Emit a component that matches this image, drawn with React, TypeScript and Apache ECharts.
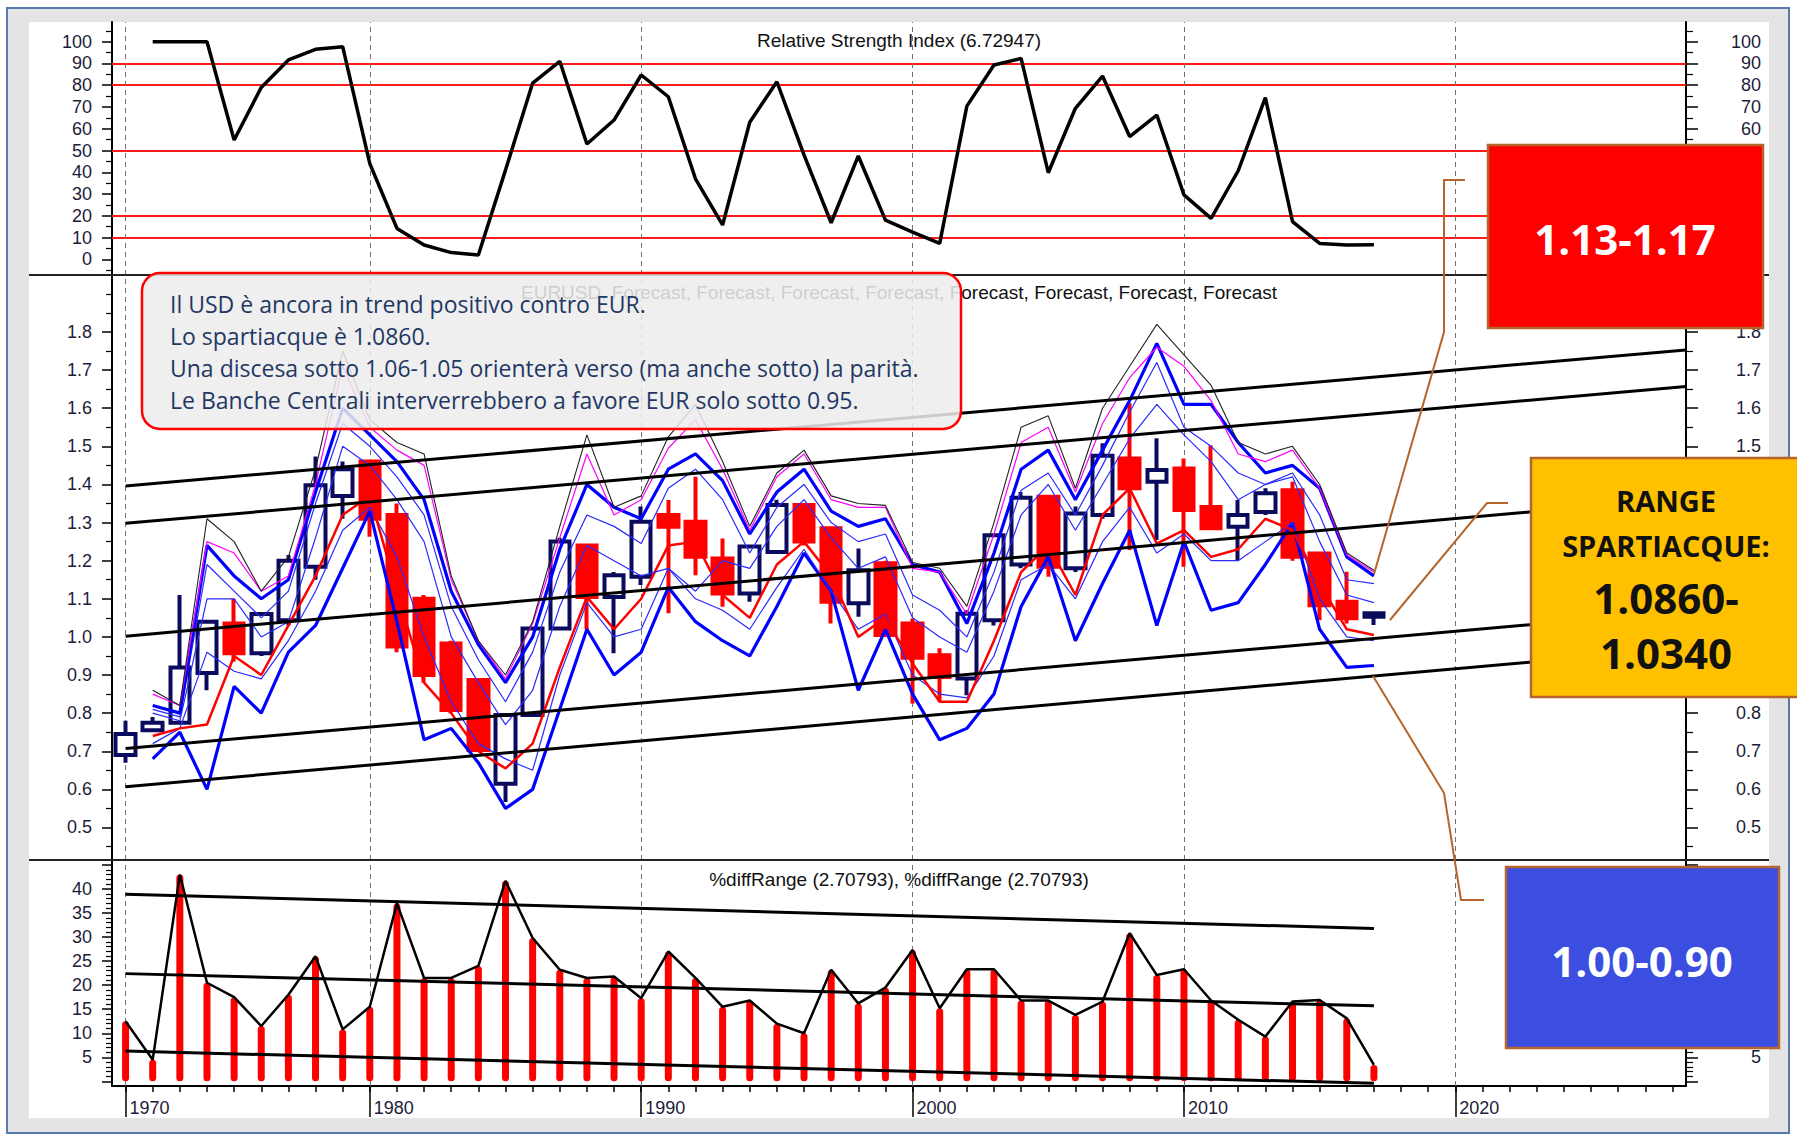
import React, { useEffect, useRef } from 'react';
import * as echarts from 'echarts';

// ---------- DATA ----------
const years = [1971, 1972, 1973, 1974, 1975, 1976, 1977, 1978, 1979, 1980, 1981, 1982, 1983, 1984, 1985, 1986, 1987, 1988, 1989, 1990, 1991, 1992, 1993, 1994, 1995, 1996, 1997, 1998, 1999, 2000, 2001, 2002, 2003, 2004, 2005, 2006, 2007, 2008, 2009, 2010, 2011, 2012, 2013, 2014, 2015, 2016, 2017];
const bandYears = [1972, 1973, 1974, 1975, 1976, 1977, 1978, 1979, 1980, 1981, 1982, 1983, 1984, 1985, 1986, 1987, 1988, 1989, 1990, 1991, 1992, 1993, 1994, 1995, 1996, 1997, 1998, 1999, 2000, 2001, 2002, 2003, 2004, 2005, 2006, 2007, 2008, 2009, 2010, 2011, 2012, 2013, 2014, 2015, 2016, 2017];

const candleOpen = [0.69, 0.755, 0.775, 0.905, 1.035, 0.957, 1.044, 1.184, 1.37, 1.46, 1.32, 1.10, 0.983, 0.887, 0.615, 0.795, 1.022, 1.24, 1.105, 1.158, 1.32, 1.302, 1.206, 1.114, 1.223, 1.346, 1.285, 1.088, 1.193, 1.035, 0.952, 0.891, 1.044, 1.19, 1.368, 1.18, 1.32, 1.468, 1.407, 1.442, 1.341, 1.289, 1.328, 1.385, 1.219, 1.092, 1.053];
const candleClose = [0.745, 0.775, 0.92, 1.04, 0.957, 1.06, 1.20, 1.398, 1.44, 1.31, 0.975, 0.90, 0.808, 0.703, 0.795, 1.022, 1.25, 1.105, 1.162, 1.302, 1.289, 1.21, 1.114, 1.237, 1.346, 1.25, 1.092, 1.175, 1.005, 0.945, 0.895, 1.061, 1.267, 1.365, 1.184, 1.324, 1.475, 1.39, 1.438, 1.333, 1.285, 1.32, 1.377, 1.21, 1.083, 1.049, 1.062];
const candleLow = [0.67, 0.75, 0.77, 0.86, 0.935, 0.95, 1.03, 1.15, 1.31, 1.263, 0.96, 0.88, 0.80, 0.70, 0.567, 0.79, 1.02, 1.02, 0.957, 1.136, 1.062, 1.162, 1.079, 1.092, 1.22, 1.24, 1.035, 1.053, 1.0, 0.825, 0.83, 0.847, 1.03, 1.18, 1.158, 1.17, 1.31, 1.228, 1.254, 1.184, 1.28, 1.202, 1.32, 1.20, 1.044, 1.035, 1.031];
const candleHigh = [0.78, 0.79, 1.11, 1.045, 1.10, 1.065, 1.215, 1.473, 1.46, 1.465, 1.35, 1.11, 0.99, 0.89, 0.80, 1.025, 1.26, 1.245, 1.17, 1.342, 1.359, 1.42, 1.258, 1.24, 1.36, 1.35, 1.29, 1.232, 1.20, 1.048, 0.97, 1.07, 1.27, 1.38, 1.37, 1.342, 1.508, 1.613, 1.521, 1.468, 1.503, 1.359, 1.39, 1.407, 1.22, 1.171, 1.065];

// Forecast lines (1972-2017)
const fcBlack = [0.86, 0.82, 1.31, 1.25, 1.12, 1.21, 1.44, 1.75, 1.57, 1.51, 1.48, 1.16, 0.99, 0.90, 1.04, 1.29, 1.53, 1.34, 1.37, 1.525, 1.61, 1.46, 1.29, 1.43, 1.49, 1.37, 1.35, 1.345, 1.195, 1.18, 1.08, 1.30, 1.55, 1.58, 1.39, 1.60, 1.71, 1.82, 1.74, 1.66, 1.51, 1.48, 1.50, 1.40, 1.22, 1.175];
const fcMagenta = [0.85, 0.82, 1.25, 1.22, 1.12, 1.16, 1.40, 1.71, 1.55, 1.49, 1.45, 1.15, 0.99, 0.89, 1.035, 1.26, 1.48, 1.32, 1.36, 1.495, 1.57, 1.44, 1.28, 1.42, 1.48, 1.36, 1.34, 1.34, 1.18, 1.17, 1.06, 1.27, 1.51, 1.55, 1.38, 1.56, 1.68, 1.76, 1.71, 1.62, 1.48, 1.46, 1.49, 1.39, 1.215, 1.17];
const fcUpper = [0.82, 0.80, 1.24, 1.16, 1.10, 1.15, 1.38, 1.60, 1.53, 1.46, 1.36, 1.12, 0.98, 0.88, 1.00, 1.23, 1.40, 1.34, 1.31, 1.44, 1.48, 1.41, 1.27, 1.38, 1.44, 1.33, 1.29, 1.31, 1.19, 1.17, 1.035, 1.22, 1.44, 1.49, 1.36, 1.49, 1.62, 1.77, 1.61, 1.61, 1.51, 1.43, 1.45, 1.39, 1.21, 1.16];
const fcThin1 = [0.81, 0.79, 1.19, 1.12, 1.05, 1.12, 1.35, 1.56, 1.50, 1.42, 1.32, 1.08, 0.94, 0.83, 0.96, 1.17, 1.32, 1.29, 1.245, 1.39, 1.44, 1.36, 1.22, 1.34, 1.40, 1.30, 1.25, 1.27, 1.11, 1.07, 1.00, 1.17, 1.385, 1.43, 1.32, 1.45, 1.59, 1.72, 1.55, 1.50, 1.43, 1.40, 1.43, 1.32, 1.15, 1.14];
const fcThin2 = [0.80, 0.78, 1.10, 1.10, 1.00, 1.04, 1.26, 1.50, 1.45, 1.36, 1.25, 1.00, 0.88, 0.77, 0.86, 1.08, 1.24, 1.20, 1.16, 1.18, 1.12, 1.20, 1.18, 1.29, 1.36, 1.26, 1.18, 1.21, 1.05, 1.00, 0.96, 1.12, 1.32, 1.40, 1.28, 1.40, 1.52, 1.61, 1.53, 1.46, 1.36, 1.40, 1.42, 1.25, 1.11, 1.09];
const fcRed = [0.74, 0.76, 0.77, 0.95, 0.90, 1.03, 1.16, 1.32, 1.37, 1.12, 0.88, 0.80, 0.70, 0.655, 0.72, 0.92, 1.105, 1.02, 1.10, 1.24, 1.25, 1.11, 1.05, 1.19, 1.25, 1.16, 1.00, 1.05, 0.93, 0.83, 0.83, 0.99, 1.17, 1.24, 1.11, 1.32, 1.39, 1.245, 1.28, 1.21, 1.23, 1.31, 1.28, 1.14, 1.02, 1.005];
const fcThin3 = [0.72, 0.76, 0.96, 0.91, 0.89, 0.99, 1.12, 1.28, 1.34, 1.21, 1.00, 0.83, 0.72, 0.68, 0.65, 0.90, 1.09, 1.00, 1.02, 1.18, 1.10, 1.07, 1.02, 1.13, 1.23, 1.12, 1.02, 1.06, 0.90, 0.85, 0.84, 0.95, 1.15, 1.19, 1.10, 1.25, 1.34, 1.22, 1.27, 1.20, 1.20, 1.25, 1.30, 1.10, 1.00, 0.99];
const fcLower = [0.68, 0.75, 0.60, 0.87, 0.80, 0.96, 1.03, 1.18, 1.33, 1.04, 0.73, 0.76, 0.67, 0.55, 0.60, 0.81, 1.02, 0.90, 0.96, 1.13, 1.04, 0.99, 0.95, 1.08, 1.22, 1.12, 0.86, 1.02, 0.85, 0.73, 0.76, 0.85, 1.08, 1.21, 0.99, 1.14, 1.28, 1.03, 1.25, 1.07, 1.09, 1.19, 1.30, 1.02, 0.92, 0.925];

// RSI (1972-2017)
const rsi = [100, 100, 100, 54.8, 79, 91.6, 96.5, 97.7, 44, 14.2, 6.6, 3.1, 2, 41, 81, 91, 53, 64, 84.7, 74.7, 37, 15.8, 63, 81.6, 48, 16.8, 47.5, 18, 12.5, 7.3, 70.4, 89.3, 92.3, 39.8, 69.4, 84.2, 56.4, 66.3, 29.6, 18.8, 40.7, 74.3, 17.3, 7.3, 6.6, 6.7];
const rsiLevels = [10, 20, 50, 80, 90];

// %diffRange (1971-2017)
const diffRange = [12.5, 4.5, 43, 20.5, 17.5, 11.5, 18, 26, 10.8, 15.5, 37, 21.5, 21.5, 24, 41.7, 29.8, 23.2, 21.5, 21.8, 17.3, 27, 21.5, 15.5, 16.8, 12, 10, 23.2, 16.2, 19.5, 27.3, 15.2, 23.3, 23.3, 16.8, 16.8, 13.8, 16.6, 30.8, 22.1, 23.3, 16.8, 12.8, 9.3, 16.6, 16.9, 13.1, 3.4];

// trend channels
const mainTrendX = [1971, 2028.5];
const mainTrendY = [[1.396, 1.753], [1.298, 1.657], [1.002, 1.364], [0.707, 1.068], [0.607, 0.970]];
const lowTrendX = [1971, 2017];
const lowTrendY = [[38.9, 31.8], [22.4, 15.7], [6.3, -0.4]];

// axes ticks / labels
const decadeMarks = [1971, 1980, 1990, 2000, 2010, 2020];
const rsiLabels = [0, 10, 20, 30, 40, 50, 60, 70, 80, 90, 100];
const rsiLabelsRight = [60, 70, 80, 90, 100];
const rsiMinor = [-5, 5, 15, 25, 35, 45, 55, 65, 75, 85, 95, 105];
const priceLabels = [0.5, 0.6, 0.7, 0.8, 0.9, 1.0, 1.1, 1.2, 1.3, 1.4, 1.5, 1.6, 1.7, 1.8];
const priceLabelsRight = [0.5, 0.6, 0.7, 0.8, 1.5, 1.6, 1.7, 1.8];
const priceMinor = [0.45, 0.55, 0.65, 0.75, 0.85, 0.95, 1.05, 1.15, 1.25, 1.35, 1.45, 1.55, 1.65, 1.75, 1.85, 1.9];
const diffLabels = [5, 10, 15, 20, 25, 30, 35, 40];
const diffLabelsRight = [5];
const diffMajor = [0, 5, 10, 15, 20, 25, 30, 35, 40, 45];
const diffMinor = [1, 2, 3, 4, 6, 7, 8, 9, 11, 12, 13, 14, 16, 17, 18, 19, 21, 22, 23, 24, 26, 27, 28, 29, 31, 32, 33, 34, 36, 37, 38, 39, 41, 42, 43, 44];
const yearTicks = [1971, 1972, 1973, 1974, 1975, 1976, 1977, 1978, 1979, 1980, 1981, 1982, 1983, 1984, 1985, 1986, 1987, 1988, 1989, 1990, 1991, 1992, 1993, 1994, 1995, 1996, 1997, 1998, 1999, 2000, 2001, 2002, 2003, 2004, 2005, 2006, 2007, 2008, 2009, 2010, 2011, 2012, 2013, 2014, 2015, 2016, 2017, 2018, 2019, 2020, 2021, 2022, 2023, 2024, 2025, 2026, 2027, 2028];

const noteLines = [
  'Il USD è ancora in trend positivo contro EUR.',
  'Lo spartiacque è 1.0860.',
  'Una discesa sotto 1.06-1.05 orienterà verso (ma anche sotto) la parità.',
  'Le Banche Centrali interverrebbero a favore EUR solo sotto 0.95.',
];

// ---------- OPTION ----------
const FONT = '"Liberation Sans", Arial, sans-serif';
const LBL = '#1c1c3a';
const X_MIN = 1970.5;
const X_MAX = 2028.5;

const pts = (xs: number[], ys: number[]) => xs.map((x, i) => [x, ys[i]]);

function yAxes(grid: number, min: number, max: number, labels: number[], labelsRight: number[], fmt: (v: number) => string, major: number[], minor: number[]) {
  const base: any = {
    type: 'value', gridIndex: grid, min, max,
    splitLine: { show: false },
    axisLine: { show: false, onZero: false },
    axisLabel: { show: false },
    axisTick: { show: false },
  };
  const lbl = { show: true, formatter: fmt, color: LBL, fontFamily: FONT, fontSize: 18, align: 'right' };
  return [
    { ...base, position: 'left',
      axisLine: { show: true, onZero: false, lineStyle: { color: '#000', width: 2 } },
      axisTick: { show: true, customValues: major, length: 10, lineStyle: { color: '#000', width: 1.5 } },
      axisLabel: { ...lbl, customValues: labels, margin: 20 } },
    { ...base, position: 'right',
      axisLine: { show: true, onZero: false, lineStyle: { color: '#000', width: 2 } },
      axisTick: { show: true, customValues: major, length: 12, lineStyle: { color: '#000', width: 1.5 } },
      axisLabel: { ...lbl, customValues: labelsRight, margin: 75 } },
    { ...base, position: 'left',
      axisTick: { show: true, customValues: minor, length: 6, lineStyle: { color: '#000', width: 1.2 } } },
    { ...base, position: 'right',
      axisTick: { show: true, customValues: minor, length: 7, lineStyle: { color: '#000', width: 1.2 } } },
  ];
}

const dashData = decadeMarks.map((x) => ({ xAxis: x }));
const dashLine = {
  silent: true, symbol: ['none', 'none'], z: 1, animation: false,
  label: { show: false },
  lineStyle: { color: '#707070', width: 1, type: [5, 4] },
  data: dashData,
};

function fcLine(name: string, data: number[], color: string, width: number) {
  return {
    type: 'line', name, xAxisIndex: 1, yAxisIndex: 4,
    data: pts(bandYears, data), symbol: 'none', showSymbol: false,
    lineStyle: { color, width }, z: 3, silent: true, animation: false,
  };
}

function buildOption(): any {
  const yAxis = [
    ...yAxes(0, -7.2, 109.05, rsiLabels, rsiLabelsRight, (v) => String(v), rsiLabels, rsiMinor),
    ...yAxes(1, 0.4147, 1.9495, priceLabels, priceLabelsRight, (v) => Number(v).toFixed(1), priceLabels, priceMinor),
    ...yAxes(2, -0.97, 46.03, diffLabels, diffLabelsRight, (v) => String(v), diffMajor, diffMinor),
  ];
  const hiddenX = (g: number) => ({ type: 'value', gridIndex: g, min: X_MIN, max: X_MAX, show: false, axisLine: { onZero: false } });
  const xAxis = [
    hiddenX(0),
    hiddenX(1),
    {
      type: 'value', gridIndex: 2, min: X_MIN, max: X_MAX, position: 'bottom',
      splitLine: { show: false },
      axisLine: { show: true, onZero: false, lineStyle: { color: '#000', width: 2 } },
      axisTick: { show: true, customValues: yearTicks, length: 6, lineStyle: { color: '#000', width: 1.5 } },
      axisLabel: {
        show: true, customValues: decadeMarks,
        formatter: (v: number) => (Number(v) === 1971 ? '1970' : String(v)),
        align: 'left', padding: [0, 0, 0, 4], margin: 13,
        color: LBL, fontFamily: FONT, fontSize: 18,
      },
    },
    {
      type: 'value', gridIndex: 2, min: X_MIN, max: X_MAX, position: 'bottom',
      splitLine: { show: false }, axisLabel: { show: false },
      axisLine: { show: false, onZero: false },
      axisTick: { show: true, customValues: decadeMarks, length: 31, lineStyle: { color: '#000', width: 1.5 } },
    },
  ];

  const series: any[] = [
    // RSI pane
    {
      type: 'line', name: 'RSI', xAxisIndex: 0, yAxisIndex: 0,
      data: pts(bandYears, rsi), symbol: 'none', showSymbol: false,
      lineStyle: { color: '#000', width: 3.5 }, z: 3, silent: true,
      markLine: {
        ...dashLine,
        data: [
          ...rsiLevels.map((v) => ({ yAxis: v, lineStyle: { color: '#ff1a1a', width: 2, type: 'solid' } })),
          ...dashData,
        ],
      },
    },
    // price pane
    {
      type: 'candlestick', name: 'EURUSD', xAxisIndex: 1, yAxisIndex: 4,
      data: years.map((y, i) => [y, candleOpen[i], candleClose[i], candleLow[i], candleHigh[i]]),
      barWidth: 20, z: 2, silent: true,
      itemStyle: { color: '#ffffff', color0: '#ff0000', borderColor: '#0b0b5e', borderColor0: '#ff0000', borderWidth: 4 },
      markLine: dashLine,
    },
    fcLine('Lower', fcLower, '#0000ff', 3.2),
    fcLine('Thin3', fcThin3, '#2a2aff', 1.2),
    fcLine('Red', fcRed, '#ff0000', 2.5),
    fcLine('Thin2', fcThin2, '#2a2aff', 1.2),
    fcLine('Thin1', fcThin1, '#2a2aff', 1.2),
    fcLine('Upper', fcUpper, '#0000ff', 3.2),
    fcLine('Magenta', fcMagenta, '#ff00ff', 1.2),
    fcLine('Black', fcBlack, '#222222', 1.1),
    ...mainTrendY.map((t, i) => ({
      type: 'line', name: 'trend' + i, xAxisIndex: 1, yAxisIndex: 4,
      data: pts(mainTrendX, t), symbol: 'none', lineStyle: { color: '#000', width: 3 }, z: 4, silent: true,
    })),
    // %diffRange pane
    {
      type: 'bar', name: '%diffRange', xAxisIndex: 2, yAxisIndex: 8,
      data: pts(years, diffRange), barWidth: 7, z: 2, silent: true,
      itemStyle: { color: '#ff0000', borderRadius: 3.5 },
      markLine: dashLine,
    },
    {
      type: 'line', name: '%diffRange line', xAxisIndex: 2, yAxisIndex: 8,
      data: pts(years, diffRange), symbol: 'none', lineStyle: { color: '#000', width: 2.5 }, z: 3, silent: true,
    },
    ...lowTrendY.map((t, i) => ({
      type: 'line', name: 'ltrend' + i, xAxisIndex: 2, yAxisIndex: 8,
      data: pts(lowTrendX, t), symbol: 'none', lineStyle: { color: '#000', width: 3 }, z: 4, silent: true,
    })),
  ];

  const brown = '#b5652b';
  const graphic: any[] = [
    { type: 'rect', z: -10, silent: true, shape: { x: 7, y: 8, width: 1782, height: 1125 }, style: { fill: '#e4e4e4', stroke: '#5878b0', lineWidth: 2 } },
    { type: 'rect', z: -9, silent: true, shape: { x: 29, y: 22, width: 1740, height: 1096 }, style: { fill: '#ffffff' } },
    { type: 'line', z: 5, silent: true, shape: { x1: 29, y1: 275, x2: 1769, y2: 275 }, style: { stroke: '#222', lineWidth: 2 } },
    { type: 'line', z: 5, silent: true, shape: { x1: 29, y1: 860, x2: 1769, y2: 860 }, style: { stroke: '#222', lineWidth: 2 } },
    // pane titles
    { type: 'text', z: 50, silent: true, x: 899, y: 40, style: { text: 'Relative Strength Index (6.72947)', fill: '#111', fontFamily: FONT, fontSize: 19, align: 'center', verticalAlign: 'middle' } },
    { type: 'text', z: 50, silent: true, x: 899, y: 292, style: { text: 'EURUSD, Forecast, Forecast, Forecast, Forecast, Forecast, Forecast, Forecast, Forecast', fill: '#111', fontFamily: FONT, fontSize: 19, align: 'center', verticalAlign: 'middle' } },
    { type: 'text', z: 50, silent: true, x: 899, y: 879, style: { text: '%diffRange (2.70793), %diffRange (2.70793)', fill: '#111', fontFamily: FONT, fontSize: 19, align: 'center', verticalAlign: 'middle' } },
    // note box
    { type: 'rect', z: 60, silent: true, shape: { x: 142, y: 273, width: 819, height: 156, r: 18 }, style: { fill: 'rgba(236,236,236,0.86)', stroke: '#ff0000', lineWidth: 2.5 } },
    ...noteLines.map((t, i) => ({
      type: 'text', z: 61, silent: true, x: 170, y: 304 + i * 32,
      style: { text: t, fill: '#1f3864', fontFamily: '"Open Sans", sans-serif', fontSize: 23, align: 'left', verticalAlign: 'middle' },
    })),
    // connectors
    { type: 'polyline', z: 79, silent: true, shape: { points: [[1465, 180], [1444, 180], [1444, 332], [1374, 574]] }, style: { stroke: brown, lineWidth: 2, fill: null } },
    { type: 'polyline', z: 79, silent: true, shape: { points: [[1508, 503], [1487, 503], [1390, 620]] }, style: { stroke: brown, lineWidth: 2, fill: null } },
    { type: 'polyline', z: 79, silent: true, shape: { points: [[1373, 676], [1444, 793], [1461, 900], [1484, 900]] }, style: { stroke: brown, lineWidth: 2, fill: null } },
    // red box
    { type: 'rect', z: 80, silent: true, shape: { x: 1488, y: 145, width: 275, height: 183 }, style: { fill: '#ff0000', stroke: brown, lineWidth: 2.5 } },
    { type: 'text', z: 81, silent: true, x: 1625, y: 238, style: { text: '1.13-1.17', fill: '#ffffff', fontFamily: '"Open Sans", sans-serif', fontWeight: 'bold', fontSize: 42, align: 'center', verticalAlign: 'middle' } },
    // yellow box
    { type: 'rect', z: 80, silent: true, shape: { x: 1531, y: 458, width: 280, height: 239 }, style: { fill: '#ffc000', stroke: brown, lineWidth: 2.5 } },
    { type: 'text', z: 81, silent: true, x: 1666, y: 500, style: { text: 'RANGE', fill: '#111', fontFamily: '"Open Sans", sans-serif', fontWeight: 'bold', fontSize: 29, align: 'center', verticalAlign: 'middle' } },
    { type: 'text', z: 81, silent: true, x: 1666, y: 545, style: { text: 'SPARTIACQUE:', fill: '#111', fontFamily: '"Open Sans", sans-serif', fontWeight: 'bold', fontSize: 29, align: 'center', verticalAlign: 'middle' } },
    { type: 'text', z: 81, silent: true, x: 1666, y: 597, style: { text: '1.0860-', fill: '#111', fontFamily: '"Open Sans", sans-serif', fontWeight: 'bold', fontSize: 42, align: 'center', verticalAlign: 'middle' } },
    { type: 'text', z: 81, silent: true, x: 1666, y: 652, style: { text: '1.0340', fill: '#111', fontFamily: '"Open Sans", sans-serif', fontWeight: 'bold', fontSize: 42, align: 'center', verticalAlign: 'middle' } },
    // blue box
    { type: 'rect', z: 80, silent: true, shape: { x: 1506, y: 867, width: 273, height: 181 }, style: { fill: '#3b4ee0', stroke: brown, lineWidth: 2.5 } },
    { type: 'text', z: 81, silent: true, x: 1642, y: 960, style: { text: '1.00-0.90', fill: '#ffffff', fontFamily: '"Open Sans", sans-serif', fontWeight: 'bold', fontSize: 42, align: 'center', verticalAlign: 'middle' } },
  ];

  return {
    animation: false,
    backgroundColor: '#ffffff',
    grid: [
      { left: 112, width: 1574, top: 22, height: 253 },
      { left: 112, width: 1574, top: 275, height: 585 },
      { left: 112, width: 1574, top: 860, height: 226 },
    ],
    xAxis,
    yAxis,
    series,
    graphic: { elements: graphic },
  };
}

export default function App() {
  const ref = useRef<HTMLDivElement>(null);
  useEffect(() => {
    document.body.style.margin = '0';
    const chart = echarts.init(ref.current as HTMLDivElement, null, { renderer: 'svg' });
    chart.setOption(buildOption());
    return () => chart.dispose();
  }, []);
  return <div ref={ref} style={{ width: 1797, height: 1139 }} />;
}
